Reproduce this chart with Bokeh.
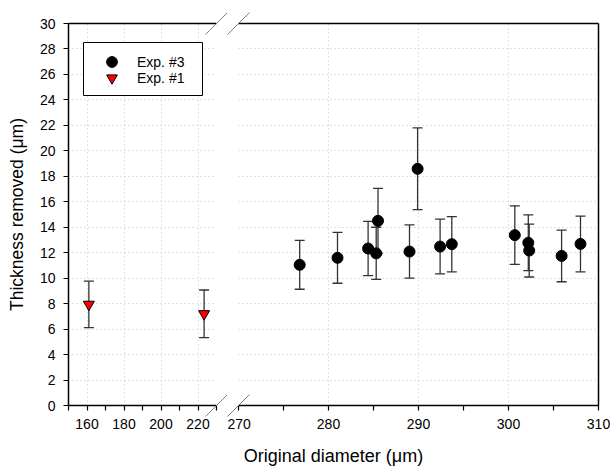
from bokeh.plotting import figure
from bokeh.models import (ColumnDataSource, Range1d, LinearAxis, FixedTicker, Whisker, TeeHead,
                          Legend, LegendItem, BoxAnnotation)
from bokeh.core.properties import value
from bokeh.layouts import row
from bokeh.embed import file_html
from bokeh.resources import INLINE

# ---------------- data ----------------
exp3_diameter = [276.8, 281.0, 284.4, 285.3, 285.5, 289.0, 289.9, 292.4, 293.7,
                 300.7, 302.2, 302.3, 305.9, 308.0]
exp3_thickness = [11.05, 11.60, 12.33, 11.95, 14.50, 12.09, 18.59, 12.48, 12.67,
                  13.38, 12.78, 12.17, 11.75, 12.69]
exp3_error = [1.92, 2.00, 2.13, 2.05, 2.55, 2.09, 3.21, 2.15, 2.17,
              2.30, 2.19, 2.08, 2.03, 2.19]

exp1_diameter = [161.0, 223.3]
exp1_thickness = [7.94, 7.20]
exp1_error = [1.82, 1.87]

x_left_limits = (150, 230)
x_right_limits = (270, 310)
y_limits = (0, 30)
y_ticks = list(range(0, 31, 2))
x_left_ticks = [160, 180, 200, 220]
x_left_minor = [150, 170, 190, 210, 230]
x_right_ticks = [270, 280, 290, 300, 310]
x_right_minor = [275, 285, 295, 305]

series_labels = ["Exp. #3", "Exp. #1"]
x_title = "Original diameter (\u03bcm)"
y_title = "Thickness removed (\u03bcm)"

# ---------------- layout / style ----------------
FONT = "Liberation Sans"
LF_W, RF_W, F_H = 148, 360, 382
GAP_HALF = 11
LEFT_BORDER, TOP, BOTTOM = 68, 23, 65
GRID_COLOR = "#c4c4c4"
BAR_COLOR = "#333333"
y_px = F_H / (y_limits[1] - y_limits[0])
xl_px = LF_W / (x_left_limits[1] - x_left_limits[0])
xr_px = RF_W / (x_right_limits[1] - x_right_limits[0])


def make_fig(xlim, fw, mbl, mbr, y_loc):
    p = figure(x_range=Range1d(*xlim), y_range=Range1d(*y_limits),
               frame_width=fw, frame_height=F_H,
               min_border_left=mbl, min_border_right=mbr,
               min_border_top=TOP, min_border_bottom=BOTTOM,
               output_backend="svg", toolbar_location=None,
               y_axis_location=y_loc)
    p.outline_line_color = None
    p.background_fill_color = "white"
    p.border_fill_color = "white"
    for g in (p.xgrid[0], p.ygrid[0]):
        g.grid_line_color = GRID_COLOR
        g.grid_line_dash = "1 3"
        g.grid_line_width = 1
    p.ygrid[0].ticker = FixedTicker(ticks=y_ticks)
    return p


def style_axis(ax, ticker):
    ax.ticker = ticker
    ax.axis_line_color = "black"
    ax.axis_line_width = 1.5
    ax.major_tick_line_color = "black"
    ax.minor_tick_line_color = "black"
    ax.major_tick_line_width = 1.2
    ax.minor_tick_line_width = 1.2
    ax.major_tick_in = 0
    ax.major_tick_out = 5
    ax.minor_tick_in = 0
    ax.minor_tick_out = 5
    ax.major_label_text_font = FONT
    ax.major_label_text_font_size = "14px"
    ax.major_label_text_color = "black"
    ax.major_label_standoff = 8


def line_only(ax):
    ax.ticker = FixedTicker(ticks=[])
    ax.axis_line_color = "black"
    ax.axis_line_width = 1.5
    ax.major_tick_out = 0
    ax.minor_tick_out = 0
    ax.major_tick_in = 0
    ax.minor_tick_in = 0
    ax.major_label_text_font_size = "0px"
    ax.major_label_standoff = 0


def error_bars(p, src):
    p.add_layout(Whisker(source=src, base="x", upper="upper", lower="lower", dimension="height",
                         line_color=BAR_COLOR, line_width=1.3,
                         upper_head=TeeHead(size=10, line_color=BAR_COLOR, line_width=1.3),
                         lower_head=TeeHead(size=10, line_color=BAR_COLOR, line_width=1.3)))


def source(x, y, e):
    return ColumnDataSource(dict(x=x, y=y,
                                 upper=[v + d for v, d in zip(y, e)],
                                 lower=[v - d for v, d in zip(y, e)]))


src1 = source(exp1_diameter, exp1_thickness, exp1_error)
src3 = source(exp3_diameter, exp3_thickness, exp3_error)

# ---------------- left panel ----------------
pl = make_fig(x_left_limits, LF_W, LEFT_BORDER, GAP_HALF, "left")
style_axis(pl.xaxis[0], FixedTicker(ticks=x_left_ticks, minor_ticks=x_left_minor))
style_axis(pl.yaxis[0], FixedTicker(ticks=y_ticks, minor_ticks=[]))
pl.xgrid[0].ticker = FixedTicker(ticks=x_left_ticks)
ya = pl.yaxis[0]
ya.axis_label = y_title
ya.axis_label_text_font = FONT
ya.axis_label_text_font_size = "17.5px"
ya.axis_label_text_font_style = "normal"
ya.axis_label_text_color = "black"
ya.axis_label_standoff = 10
top_l = LinearAxis()
line_only(top_l)
pl.add_layout(top_l, "above")

error_bars(pl, src1)
tri = pl.scatter("x", "y", source=src1, marker="inverted_triangle", size=11,
                 fill_color="red", line_color="black", line_width=1)
# Exp. #3 drawn here only for its legend entry (its x values lie outside this panel)
proxy = pl.scatter("x", "y", source=src3, marker="circle", size=11,
                   fill_color="black", line_color="black")

# ---------------- right panel ----------------
pr = make_fig(x_right_limits, RF_W, GAP_HALF, 12, "right")
style_axis(pr.xaxis[0], FixedTicker(ticks=x_right_ticks, minor_ticks=x_right_minor))
line_only(pr.yaxis[0])
pr.xgrid[0].ticker = FixedTicker(ticks=x_right_ticks)
pr.xgrid[0].bounds = (x_right_limits[0] - 0.01, x_right_limits[1] + 0.01)
top_r = LinearAxis()
line_only(top_r)
pr.add_layout(top_r, "above")

error_bars(pr, src3)
pr.scatter("x", "y", source=src3, marker="circle", size=11,
           fill_color="black", line_color="black")

# ---------------- axis breaks ----------------
dy = GAP_HALF / y_px
for p, xb, px_per in ((pl, x_left_limits[1], xl_px), (pr, x_right_limits[0], xr_px)):
    dx = GAP_HALF / px_per
    ys = [y_limits[0], y_limits[1]]
    p.segment(x0=[xb - dx] * 2, y0=[y - dy for y in ys],
              x1=[xb + dx] * 2, y1=[y + dy for y in ys],
              line_color="#808080", line_width=1, level="overlay")

# ---------------- legend ----------------
# box offsets in px from the frame's top-left corner: left, right, top, bottom
BOX = (15, 134, 19, 72)
pl.add_layout(BoxAnnotation(left=x_left_limits[0] + BOX[0] / xl_px,
                            right=x_left_limits[0] + BOX[1] / xl_px,
                            top=y_limits[1] - BOX[2] / y_px,
                            bottom=y_limits[1] - BOX[3] / y_px,
                            fill_color="white", fill_alpha=1,
                            line_color="black", line_alpha=1, line_width=1))
for label, rend, loc in ((series_labels[0], proxy, (20, 330)),
                         (series_labels[1], tri, (20, 314))):
    pl.add_layout(Legend(items=[LegendItem(label=label, renderers=[rend])],
                         location=loc, orientation="vertical",
                         border_line_color=None, background_fill_alpha=0,
                         padding=0, spacing=0, margin=0,
                         glyph_width=47, glyph_height=27, label_standoff=2,
                         label_height=16,
                         label_text_font=FONT, label_text_font_size="14px",
                         label_text_color="black"), "center")

# ---------------- x title (centred under both panels) ----------------
centre_offset = (RF_W - (LF_W + 2 * GAP_HALF)) / 2
pr.text(x=[x_right_limits[0] + centre_offset / xr_px], y=[y_limits[0] - 50 / y_px],
        text=[x_title], text_font=value(FONT), text_font_size="18px",
        text_align="center", text_baseline="middle", text_color="black",
        level="overlay")

layout = row(pl, pr, spacing=0)
open("out.html", "w").write(file_html(layout, INLINE))
